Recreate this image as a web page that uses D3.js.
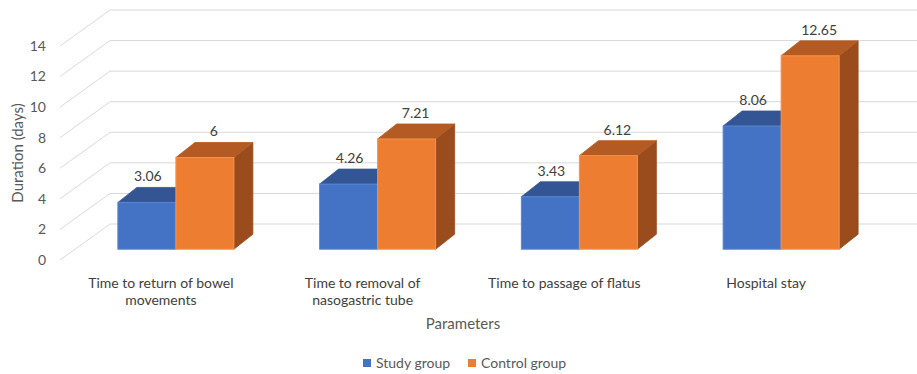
<!DOCTYPE html>
<html>
<head>
<meta charset="utf-8">
<script src="https://cdn.jsdelivr.net/npm/d3@7/dist/d3.min.js"></script>
<style>
	html, body { margin: 0; padding: 0; background: #ffffff; }
	svg { display: block; font-family: Lato, 'Open Sans', sans-serif; }
</style>
</head>
<body>
<div id="chart"></div>
<script>
	'use strict';

	var categories = ['Time to return of bowel movements', 'Time to removal of nasogastric tube',
		'Time to passage of flatus', 'Hospital stay'];
	var seriesNames = ['Study group', 'Control group'];
	var studyValues = [3.06, 4.26, 3.43, 8.06];
	var controlValues = [6, 7.21, 6.12, 12.65];
	var yTicks = [0, 2, 4, 6, 8, 10, 12, 14];

	var width = 917, height = 374;

	// faces: front, top, side
	var palette = [
		{front: '#4472c4', top: '#335593', side: '#2c4f8f', edge: '#5a86d2'},
		{front: '#ed7d31', top: '#b45b23', side: '#9a4c1d', edge: '#f4924f'}
	];

	// 3d frame: front plane and back wall offset
	var plot = {left: 60, right: 867, bottom: 260, top: 46};
	var wall = {dx: 50, dy: -36};
	var barPlane = 0.3;          // where the bars sit between front and back
	var barDepth = {dx: 19, dy: -15};

	var svg = d3.select('#chart')
		.append('svg')
		.attr('width', width)
		.attr('height', height);

	var y = d3.scaleLinear()
		.domain([0, 14])
		.range([plot.bottom, plot.top]);

	var x0 = d3.scaleBand()
		.domain(categories)
		.range([plot.left, plot.right])
		.paddingInner(0.425)
		.paddingOuter(0.2125);

	var x1 = d3.scaleBand()
		.domain(seriesNames)
		.range([0, x0.bandwidth()]);

	// gridlines: diagonal side wall + back wall
	var grid = svg.append('g').attr('class', 'grid');
	yTicks.forEach(function (v) {
		grid.append('line')
			.attr('x1', plot.left).attr('y1', y(v))
			.attr('x2', plot.left + wall.dx).attr('y2', y(v) + wall.dy)
			.attr('stroke', '#d9d9d9').attr('stroke-width', 1);
		grid.append('line')
			.attr('x1', plot.left + wall.dx).attr('y1', y(v) + wall.dy)
			.attr('x2', plot.right + wall.dx).attr('y2', y(v) + wall.dy)
			.attr('stroke', '#d9d9d9').attr('stroke-width', 1);
	});

	// y axis labels
	svg.append('g').selectAll('text')
		.data(yTicks)
		.enter().append('text')
		.attr('x', 46)
		.attr('y', function (d) { return y(d); })
		.attr('dy', '0.35em')
		.attr('text-anchor', 'end')
		.attr('font-size', 14)
		.attr('fill', '#595959')
		.text(function (d) { return d; });

	var offX = wall.dx * barPlane, offY = wall.dy * barPlane;

	function pts(list) {
		return list.map(function (p) { return p[0] + ',' + p[1]; }).join(' ');
	}

	var bars = svg.append('g').attr('class', 'bars');
	var labels = [];

	categories.forEach(function (cat, i) {
		[studyValues[i], controlValues[i]].forEach(function (val, s) {
			var c = palette[s];
			var xl = x0(cat) + x1(seriesNames[s]) + offX;
			var xr = xl + x1.bandwidth();
			var yb = y(0) + offY;
			var yt = y(val) + offY;
			var g = bars.append('g');
			g.append('polygon')
				.attr('points', pts([[xr, yb], [xr + barDepth.dx, yb + barDepth.dy],
					[xr + barDepth.dx, yt + barDepth.dy], [xr, yt]]))
				.attr('fill', c.side).attr('stroke', c.side).attr('stroke-width', 0.8);
			g.append('polygon')
				.attr('points', pts([[xl, yt], [xr, yt], [xr + barDepth.dx, yt + barDepth.dy],
					[xl + barDepth.dx, yt + barDepth.dy]]))
				.attr('fill', c.top).attr('stroke', c.top).attr('stroke-width', 0.8);
			g.append('rect')
				.attr('x', xl).attr('y', yt)
				.attr('width', x1.bandwidth()).attr('height', yb - yt)
				.attr('fill', c.front).attr('stroke', c.edge).attr('stroke-width', 1);
			labels.push({
				x: (xl + xr) / 2 + (s === 0 ? 1 : 9),
				y: yt + barDepth.dy - 6,
				text: String(val)
			});
		});
	});

	svg.append('g').selectAll('text')
		.data(labels)
		.enter().append('text')
		.attr('x', function (d) { return d.x; })
		.attr('y', function (d) { return d.y; })
		.attr('text-anchor', 'middle')
		.attr('font-size', 14)
		.attr('fill', '#404040')
		.text(function (d) { return d.text; });

	// category labels, wrapped
	var catG = svg.append('g');
	categories.forEach(function (cat) {
		var t = catG.append('text')
			.attr('x', x0(cat) + x0.bandwidth() / 2)
			.attr('y', 288)
			.attr('text-anchor', 'middle')
			.attr('font-size', 14)
			.attr('fill', '#404040');
		var words = cat.split(' '), line = [];
		var tspan = t.append('tspan').attr('x', t.attr('x')).attr('dy', 0);
		words.forEach(function (w) {
			line.push(w);
			tspan.text(line.join(' '));
			if (tspan.node().getComputedTextLength() > 170 && line.length > 1) {
				line.pop();
				tspan.text(line.join(' '));
				line = [w];
				tspan = t.append('tspan').attr('x', t.attr('x')).attr('dy', 17).text(w);
			}
		});
	});

	// axis titles
	svg.append('text')
		.attr('transform', 'translate(23,153) rotate(-90)')
		.attr('text-anchor', 'middle')
		.attr('font-size', 15)
		.attr('fill', '#595959')
		.text('Duration (days)');

	svg.append('text')
		.attr('x', 463).attr('y', 329)
		.attr('text-anchor', 'middle')
		.attr('font-size', 15)
		.attr('fill', '#595959')
		.text('Parameters');

	// legend
	var legend = svg.append('g');
	var legendX = [363, 468];
	seriesNames.forEach(function (name, s) {
		legend.append('rect')
			.attr('x', legendX[s]).attr('y', 359)
			.attr('width', 8).attr('height', 8)
			.attr('fill', palette[s].front);
		legend.append('text')
			.attr('x', legendX[s] + 13).attr('y', 363)
			.attr('dy', '0.35em')
			.attr('font-size', 14)
			.attr('fill', '#595959')
			.text(name);
	});
</script>
</body>
</html>
